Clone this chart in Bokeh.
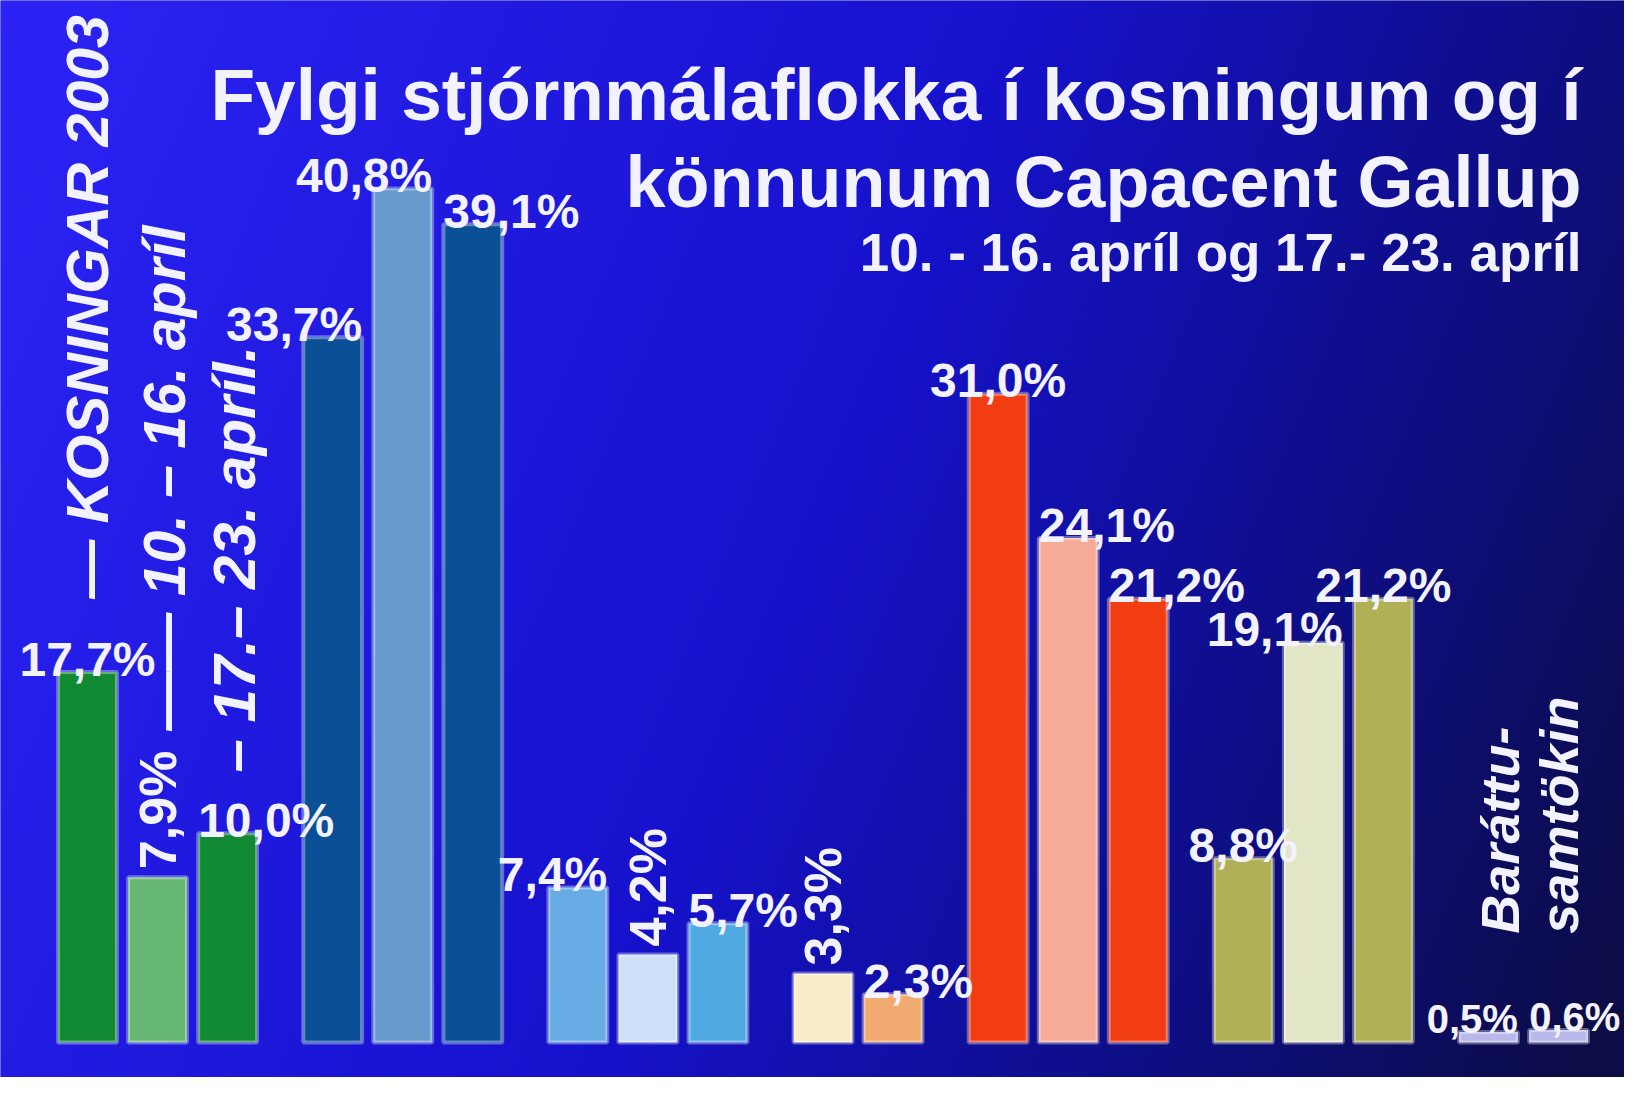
import numpy as np
from bokeh.plotting import figure
from bokeh.models import Range1d, ColumnDataSource, Label
from bokeh.core.properties import value
from bokeh.embed import file_html
from bokeh.resources import INLINE

# ---------------- data ----------------
parties = ["Framsóknarflokkurinn", "Sjálfstæðisflokkurinn", "Frjálslyndi flokkurinn",
           "Íslandshreyfingin", "Samfylkingin", "Vinstri græn", "Baráttusamtökin"]
periods = ["Kosningar 2003", "10.–16. apríl", "17.–23. apríl"]
kosningar_2003 = [17.7, 33.7, 7.4, None, 31.0, 8.8, None]
april_10_16 = [7.9, 40.8, 4.2, 3.3, 24.1, 19.1, 0.5]
april_17_23 = [10.0, 39.1, 5.7, 2.3, 21.2, 21.2, 0.6]

title_1 = "Fylgi stjórnmálaflokka í kosningum og í"
title_2 = "könnunum Capacent Gallup"
subtitle = "10. - 16. apríl og 17.- 23. apríl"
legend_texts = ["— KOSNINGAR 2003", "—— 10. – 16. apríl", "– 17.– 23. apríl."]
small_party_lines = ["Baráttu-", "samtökin"]

# ---------------- styles ----------------
bar_colors = [
    ["#128a34", "#66b872", "#128a34"],
    ["#0b5096", "#6699cc", "#0b5096"],
    ["#66abe3", "#cde0f7", "#52aae2"],
    [None, "#fbecc9", "#f1ab70"],
    ["#f23c12", "#f6ab98", "#f23c12"],
    ["#b0b156", "#e3e6c6", "#b0b156"],
    [None, "#b8b8ea", "#b8b8ea"],
]
label_place = [
    ["center", "rotated", "left"],
    ["right", "right", "left"],
    ["right", "rotated", "left"],
    [None, "rotated", "left"],
    ["center", "left", "left"],
    ["center", "right", "center"],
    [None, "right", "left"],
]
label_px = [48, 48, 48, 48, 48, 48, 40]
TXT = "#f3f3ff"
SANS = value("Liberation Sans")

W, H = 1624, 1077
GROUP_GAP = 0.5
BAR_W = 0.84
PX_X, X0 = 70.05, 87.0
PX_Y, Y0 = 20.93, 1042.0

# ---------------- layout from data ----------------
xs, tops, cols, places, sizes = [], [], [], [], []
pos = 0.0
for g in range(len(parties)):
    vals = [kosningar_2003[g], april_10_16[g], april_17_23[g]]
    for k, v in enumerate(vals):
        if v is None:
            continue
        xs.append(pos)
        tops.append(v)
        cols.append(bar_colors[g][k])
        places.append(label_place[g][k])
        sizes.append(label_px[g])
        pos += 1
    pos += GROUP_GAP

def fmt(v):
    return f"{v:.1f}".replace(".", ",") + "%"

x_range = Range1d(-X0 / PX_X, (W - X0) / PX_X)
y_range = Range1d(-(H - Y0) / PX_Y, Y0 / PX_Y)

p = figure(width=W, height=H, x_range=x_range, y_range=y_range,
           output_backend="svg", toolbar_location=None, min_border=0)
p.axis.visible = False
p.grid.visible = False
p.outline_line_color = None
p.background_fill_color = "#14129a"
p.border_fill_color = "#14129a"

# background gradient
nx, ny = 406, 270
xf = np.linspace(0, 1, nx)[None, :]
yt = np.linspace(1, 0, ny)[:, None]
s = np.clip(0.8 * xf + 0.22 * yt, 0, 1)
stops = [0.0, 0.5, 0.8, 1.0]
R = np.interp(s, stops, [44, 22, 14, 12])
G = np.interp(s, stops, [36, 18, 14, 12])
B = np.interp(s, stops, [246, 205, 128, 70])
img = np.zeros((ny, nx), dtype=np.uint32)
view = img.view(dtype=np.uint8).reshape((ny, nx, 4))
view[:, :, 0] = R.astype(np.uint8)
view[:, :, 1] = G.astype(np.uint8)
view[:, :, 2] = B.astype(np.uint8)
view[:, :, 3] = 255
p.image_rgba(image=[img], x=x_range.start, y=y_range.start,
             dw=x_range.end - x_range.start, dh=y_range.end - y_range.start)

# bars
src = ColumnDataSource(dict(x=xs, top=tops, color=cols))
p.vbar(x="x", top="top", bottom=0, width=BAR_W, fill_color="color", source=src,
       line_color="white", line_alpha=0.35, line_width=4)

# value labels
half = BAR_W / 2
groups = {}
for x, v, pl, sz in zip(xs, tops, places, sizes):
    gx, gy, gt = groups.setdefault((pl, sz), ([], [], []))
    if pl == "left":
        gx.append(x - half)
    elif pl == "right":
        gx.append(x + half)
    else:
        gx.append(x)
    gy.append(v)
    gt.append(fmt(v))

for (pl, sz), (gx, gy, gt) in groups.items():
    if pl == "rotated":
        p.text(x=gx, y=gy, text=gt, angle=np.pi / 2, text_align="left",
               text_baseline="middle", y_offset=-8, text_color=TXT, text_font=SANS,
               text_font_style="bold", text_font_size="52px")
    else:
        p.text(x=gx, y=gy, text=gt, text_align=pl, text_baseline="alphabetic",
               y_offset=-13, text_color=TXT, text_font=SANS, text_font_style="bold",
               text_font_size=f"{sz}px")

# period legend, rotated above first group
p.text(x=[xs[0]], y=[21.2], text=[legend_texts[0]], angle=np.pi / 2,
       text_align="left", text_baseline="middle", text_color=TXT, text_font=SANS,
       text_font_style="bold italic", text_font_size="59px")
p.text(x=[xs[1] + 0.1], y=[14.9], text=[legend_texts[1]], angle=np.pi / 2,
       text_align="left", text_baseline="middle", text_color=TXT, text_font=SANS,
       text_font_style="bold italic", text_font_size="59px")
p.text(x=[xs[2] + 0.1], y=[12.9], text=[legend_texts[2]], angle=np.pi / 2,
       text_align="left", text_baseline="middle", text_color=TXT, text_font=SANS,
       text_font_style="bold italic", text_font_size="60px")

# small party name (two rotated lines above its bars)
p.text(x=[xs[-2] + 0.17, xs[-1]], y=[5.2, 5.2], text=small_party_lines, angle=np.pi / 2,
       text_align="left", text_baseline="middle", text_color=TXT, text_font=SANS,
       text_font_style="bold italic", text_font_size="54px")

# titles
for txt, ybase, size in ((title_1, 983, "73px"), (title_2, 896, "72px"), (subtitle, 825, "53px")):
    p.add_layout(Label(x=1581, y=ybase, x_units="screen", y_units="screen", text=txt,
                       text_align="right", text_baseline="alphabetic", text_color=TXT,
                       text_font="Liberation Sans", text_font_style="bold",
                       text_font_size=size))

open("out.html", "w").write(file_html(p, INLINE))
